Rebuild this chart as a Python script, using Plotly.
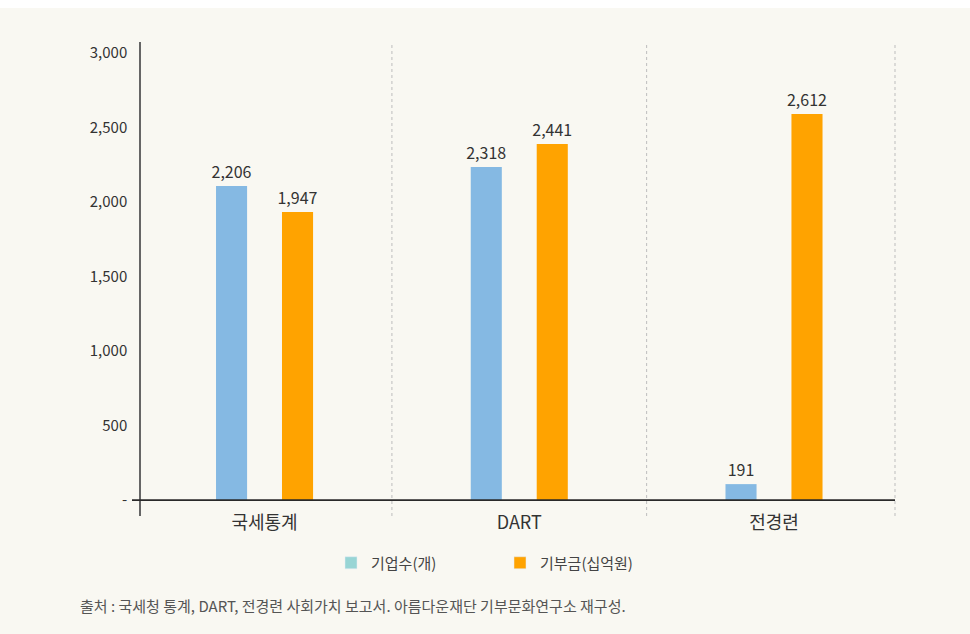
import plotly.graph_objects as go

categories = ["국세통계", "DART", "전경련"]
# bar heights as drawn in the picture
firms_height = [2107, 2235, 107]
donation_height = [1933, 2389, 2591]
# value labels printed above the bars
firms_labels = ["2,206", "2,318", "191"]
donation_labels = ["1,947", "2,441", "2,612"]
series_names = ["기업수(개)", "기부금(십억원)"]
y_tickvals = [0, 500, 1000, 1500, 2000, 2500, 3000]
y_ticktext = ["-", "500", "1,000", "1,500", "2,000", "2,500", "3,000"]
source_text = "출처 : 국세청 통계, DART, 전경련 사회가치 보고서. 아름다운재단 기부문화연구소 재구성."

BLUE = "#85b9e3"
ORANGE = "#ffa300"
LEGEND_TEAL = "#98d5d5"
BG = "#f9f8f2"
FONT = "Noto Sans CJK KR"

W = 970; H = 634
ML, MR, MT, MB = 141, 75, 42, 118
pw = W - ML - MR
ph = H - MT - MB

bar_w = 0.122
fig = go.Figure()
fig.add_trace(go.Bar(x=categories, y=firms_height, text=firms_labels, name=series_names[0],
                     marker=dict(color=BLUE, line=dict(width=0)), width=bar_w, offset=-0.1295 - bar_w / 2,
                     textposition="outside", constraintext="none", textfont=dict(size=16, color="#333"),
                     cliponaxis=False, showlegend=False, hoverinfo="skip"))
fig.add_trace(go.Bar(x=categories, y=donation_height, text=donation_labels, name=series_names[1],
                     marker=dict(color=ORANGE, line=dict(width=0)), width=bar_w, offset=0.1295 - bar_w / 2,
                     textposition="outside", constraintext="none", textfont=dict(size=16, color="#333"),
                     cliponaxis=False, showlegend=False, hoverinfo="skip"))
# legend entries
fig.add_trace(go.Bar(x=[None], y=[None], name=series_names[0], marker=dict(color=LEGEND_TEAL)))
fig.add_trace(go.Bar(x=[None], y=[None], name=series_names[1], marker=dict(color=ORANGE)))

shapes = []
# top white strip
shapes.append(dict(type="rect", xref="paper", yref="paper",
                   x0=-ML / pw - 0.02, x1=1 + MR / pw + 0.02,
                   y0=1 + (MT - 8) / ph, y1=1 + (MT + 5) / ph,
                   fillcolor="white", line=dict(width=0), layer="below"))
# dotted separators
for xv in [0.5, 1.5]:
    shapes.append(dict(type="line", xref="x", yref="paper", x0=xv, x1=xv, y0=0, y1=1,
                       line=dict(color="#bdbdbd", width=1, dash="dot"), layer="below"))
shapes.append(dict(type="line", xref="paper", yref="paper", x0=1, x1=1, y0=0, y1=1,
                   line=dict(color="#bdbdbd", width=1, dash="dot"), layer="below"))
# x baseline
shapes.append(dict(type="line", xref="paper", yref="y", x0=-9 / pw, x1=1, y0=0, y1=0,
                   line=dict(color="#2a2a2a", width=1.8)))

fig.update_layout(
    width=W, height=H,
    margin=dict(l=ML, r=MR, t=MT, b=MB, pad=0),
    paper_bgcolor=BG, plot_bgcolor=BG,
    font=dict(family=FONT, color="#333"),
    barmode="overlay",
    shapes=shapes,
    legend=dict(orientation="h", x=(331 - ML) / pw, xanchor="left",
                y=(ph + MT - 563) / ph, yanchor="middle",
                font=dict(size=15, color="#444"), entrywidth=124, bgcolor="rgba(0,0,0,0)",
                itemclick=False),
    xaxis=dict(type="category", categoryorder="array", categoryarray=categories,
               range=[-0.485, 2.475], showgrid=False, zeroline=False, showline=False,
               tickfont=dict(size=18, color="#333"), ticks="", ticklabelstandoff=-6),
    yaxis=dict(range=[-107, 3074], tickvals=y_tickvals, ticktext=y_ticktext,
               showgrid=False, zeroline=False, showline=True, linecolor="#666", linewidth=1.5,
               tickfont=dict(size=15, color="#333"), ticks="", ticklabelstandoff=9),
    annotations=[dict(text=source_text, xref="paper", yref="paper",
                      x=(78 - ML) / pw, xanchor="left", y=(ph + MT - 605) / ph, yanchor="middle",
                      showarrow=False, font=dict(size=15, color="#555"))],
)
fig.write_html("out.html", config={"displayModeBar": False},
               post_script="document.body.style.margin='0';document.body.style.overflow='hidden';")
